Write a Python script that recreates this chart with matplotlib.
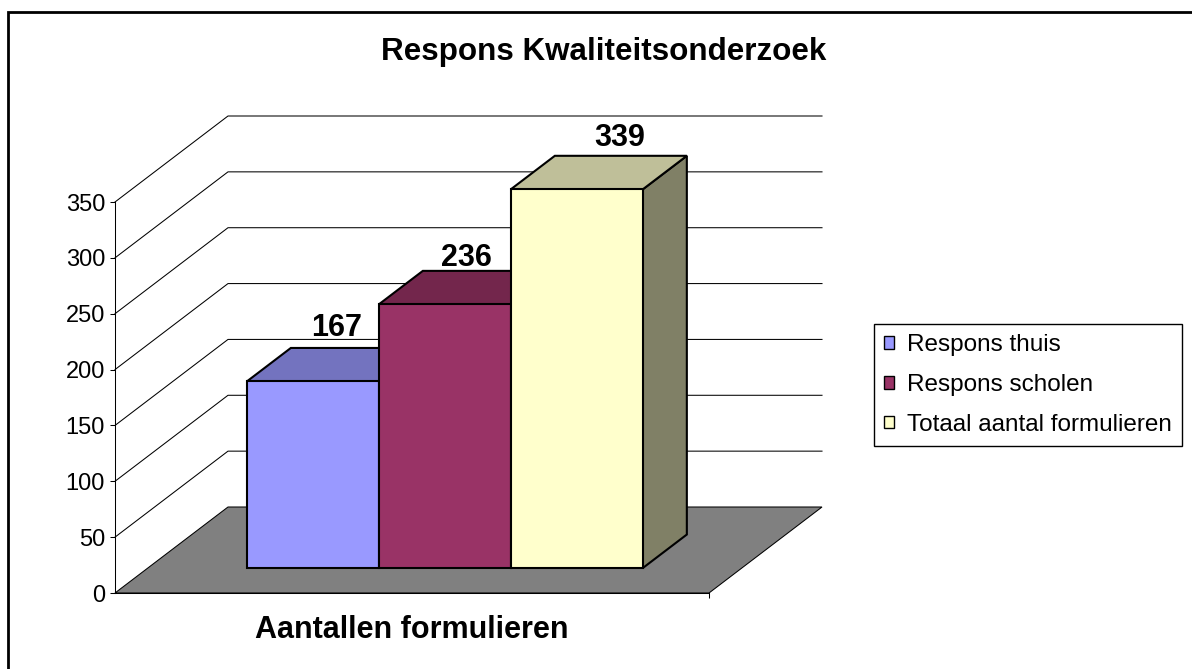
import matplotlib
matplotlib.use("Agg")
import matplotlib.pyplot as plt
from matplotlib.patches import Polygon, Rectangle

plt.rcParams['font.family'] = ['Liberation Sans', 'DejaVu Sans']

# chart data
title = "Respons Kwaliteitsonderzoek"
category = "Aantallen formulieren"
series = ["Respons thuis", "Respons scholen", "Totaal aantal formulieren"]
values = [167, 236, 339]
yticks = [0, 50, 100, 150, 200, 250, 300, 350]

# excel-ish colours: front, top (75%), side (50%)
front_colors = ["#9999FF", "#993366", "#FFFFCC"]
top_colors = ["#7373BF", "#73264C", "#BFBF99"]
side_colors = ["#4D4D80", "#4D1A33", "#808066"]

W, H = 1192, 669
fig = plt.figure(figsize=(W / 100, H / 100), dpi=100)
# front plane of the 3d box
ax = fig.add_axes([115 / W, (H - 593) / H, 594 / W, (593 - 202) / H])
ax.set_xlim(0, 1)
ax.set_ylim(0, 350)
ax.patch.set_visible(False)

# oblique depth offset, in data units
DX = 113 / 594
DY = 86 * 350 / 391


def P(x, v, z):
    return (x + z * DX, v + z * DY)


# back wall / side wall gridlines
for v in yticks[1:]:
    ax.plot([0, DX, 1 + DX], [v, v + DY, v + DY], color='black', lw=0.75,
            clip_on=False, zorder=1)

floor = Polygon([P(0, 0, 0), P(0, 0, 1), P(1, 0, 1), P(1, 0, 0)],
                closed=True, fc='#808080', ec='black', lw=0.75,
                clip_on=False, zorder=2)
ax.add_patch(floor)

# bars
gap = 1 / 3
w = (1 - gap) / len(values)
x0 = gap / 2
z0, z1 = 0.29, 0.68
zm = (z0 + z1) / 2
label_nudge = [(2, 29), (0, 22), (21, 27)]  # pixels

for i, v in enumerate(values):
    xl = x0 + i * w
    xr = xl + w
    zo = 3 + i
    side = [P(xr, 0, z0), P(xr, 0, z1), P(xr, v, z1), P(xr, v, z0)]
    top = [P(xl, v, z0), P(xr, v, z0), P(xr, v, z1), P(xl, v, z1)]
    front = [P(xl, 0, z0), P(xr, 0, z0), P(xr, v, z0), P(xl, v, z0)]
    for pts, c in [(side, side_colors[i]), (top, top_colors[i]), (front, front_colors[i])]:
        ax.add_patch(Polygon(pts, closed=True, fc=c, ec='black', lw=1.5,
                             joinstyle='miter', clip_on=False, zorder=zo))
    dx, dy = label_nudge[i]
    ax.annotate(str(v), xy=P((xl + xr) / 2, v, zm), xytext=(dx * 0.72, dy * 0.72),
                textcoords='offset points', ha='center', va='baseline',
                fontsize=22, fontweight='bold', zorder=10, annotation_clip=False)

# axes styling
for s in ['top', 'right']:
    ax.spines[s].set_visible(False)
for s in ['left', 'bottom']:
    ax.spines[s].set_linewidth(0.75)
    ax.spines[s].set_zorder(2.5)
ax.set_yticks(yticks)
ax.tick_params(axis='y', direction='out', length=3.6, width=0.75, pad=3.6, labelsize=17)
ax.set_xticks([1])
ax.set_xticklabels([''])
ax.tick_params(axis='x', direction='out', length=3.6, width=0.75)

ax.annotate(category, xy=(0.5, 0), xytext=(0, -45 * 0.72), textcoords='offset points',
            ha='center', va='baseline', fontsize=22, fontweight='bold',
            annotation_clip=False)

fig.text(603.5 / W, 1 - 60 / H, title, ha='center', va='baseline',
         fontsize=22.6, fontweight='bold')

handles = [Rectangle((0, 0), 1, 1, fc=c, ec='black', lw=1) for c in front_colors]
leg = fig.legend(handles, series, loc='upper left',
                 bbox_to_anchor=(874 / W, 1 - 324 / H), bbox_transform=fig.transFigure,
                 frameon=True, fancybox=False, edgecolor='black', framealpha=1,
                 fontsize=17.5, handlelength=0.42, handleheight=0.42,
                 handletextpad=0.5, borderpad=0.42, labelspacing=0.73,
                 borderaxespad=0)
leg.get_frame().set_linewidth(1)

# outer chart border (runs off the right and bottom edges)
fig.add_artist(Rectangle((8 / W, -0.05), 1.1, (1 - 12 / H) + 0.05,
                         transform=fig.transFigure, fill=False, ec='black', lw=2))

fig.savefig("out.png", dpi=100)
